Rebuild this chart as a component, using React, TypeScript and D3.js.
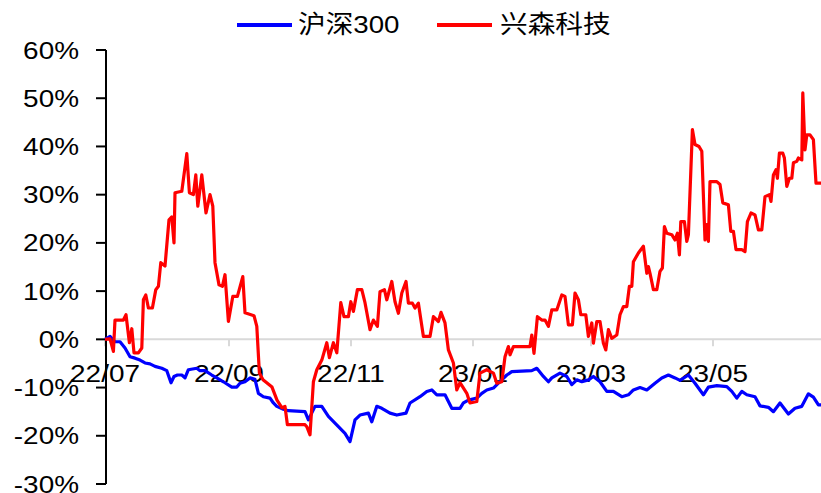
import React from 'react';
import * as d3 from 'd3';

const seriesNames = ['沪深300', '兴森科技'];
const seriesColors = ['#0000FF', '#FF0000'];
const yTicks = [-30, -20, -10, 0, 10, 20, 30, 40, 50, 60];
const xTickLabels = ['22/07', '22/09', '22/11', '23/01', '23/03', '23/05'];
const xTickDates = ['2022-07-01', '2022-09-01', '2022-11-01', '2023-01-01', '2023-03-01', '2023-05-01'];
const startDate = '2022-07-01';
const endDate = '2023-06-24';

// days since start, cumulative return (%)
const blueDays = [0,2.5,5,7.5,10,12.5,15,17.5,20,22.5,25,28.4,30.9,33,34.5,36.2,38.4,40,41.7,45.9,47.5,50,53.4,55.9,59.2,63.4,65.9,67.5,70,72.5,75,76.7,79.2,82.5,84.2,85.9,89.2,91.7,100,101.7,105,108.4,111.7,116.7,120,122.5,125,127.5,131.7,133.4,135.9,138.4,142.5,145.9,150.5,152.5,157.5,160.9,163.4,165.9,170,173.4,177.5,179.2,181.7,185.9,188.4,190.9,194.2,196.7,200.9,203.4,213.4,215.9,219.2,221.7,223.4,227.5,230.9,233.4,235.9,238.4,241.7,244.2,247.5,250.9,254.2,258.4,261.7,264.2,267.5,270.9,275,278.4,281.7,285,287.5,291.7,295,299.2,301.7,305.9,310.9,313.4,315.9,318.4,320.9,325,327.5,331.7,334.2,337.5,341.7,345,348.4,351.7,354.2,356.7,358];
const blueVals = [0,0.6,-0.5,-0.5,-1.8,-3.6,-3.9,-4.3,-4.9,-5.1,-5.6,-6.0,-6.5,-9.0,-7.7,-7.4,-7.4,-8.0,-6.3,-6.0,-6.5,-6.5,-7.4,-8.0,-8.8,-9.9,-9.9,-9.1,-8.8,-8.0,-8.3,-11.2,-11.9,-12.2,-13.2,-13.9,-14.5,-14.8,-15.0,-16.7,-13.9,-13.9,-16.0,-18.1,-19.5,-21.2,-16.7,-15.7,-15.3,-17.1,-13.9,-14.3,-15.3,-15.7,-15.3,-13.2,-11.9,-10.8,-10.5,-11.5,-11.5,-14.3,-14.3,-13.2,-12.6,-12.2,-11.2,-10.5,-10.1,-9.1,-7.4,-6.7,-6.5,-6.0,-7.7,-8.8,-8.0,-7.0,-7.7,-9.4,-8.4,-8.8,-8.4,-7.7,-8.8,-10.8,-10.8,-11.9,-11.5,-10.5,-10.0,-10.5,-9.1,-8.0,-7.4,-8.0,-8.5,-7.4,-9.1,-11.5,-9.9,-9.6,-9.8,-10.8,-12.2,-10.8,-11.5,-11.9,-13.8,-14.1,-15.0,-13.2,-15.5,-14.3,-13.9,-11.3,-12.0,-13.6,-13.6];

const redDays = [0,2.5,4.2,5,9.2,10.5,12.2,13.4,14.5,16.7,18.4,19.2,20.4,21.7,23.7,25.4,26.7,27.9,30,32,33.4,34.5,35,38.4,40.9,42.2,44.2,45.4,46.4,48.4,50.5,52.5,53.9,55,57,58.7,60,61.7,63.9,66.2,68.9,70,74.5,75.9,77.2,79,83.5,86,88.5,90,91.2,100,101,102.5,104.2,105.9,108.4,110.9,112.2,114.2,115.9,117.9,119.5,121.7,122.9,124.2,126.2,128.4,130,132.5,134.2,136.2,137.5,139.7,140.9,143.4,145,146.7,148.4,150.5,151.7,153.7,155,156.7,159.2,162.5,164.2,166.7,168,170,171.7,174.2,175.9,177.5,180.9,182.5,185.9,187.5,190.9,194.2,195.9,198.4,200,201.7,202.5,204.2,212.5,213.4,214.5,216.2,218.4,220,221.7,223.4,225.9,228.4,230,231.7,233.7,235,236.7,237.9,240.4,241.7,243.4,244.2,245.9,247.5,249.2,250.4,251.7,253.4,255.9,257.5,259.2,260.9,262.2,263.4,264.2,266.7,269.2,270.9,271.7,272.5,274.2,275.9,277.5,278.7,279.7,280.9,283.4,285,286.2,287.2,287.9,289.7,290.9,291.7,293.7,295,297,298.4,300,300.9,301.7,302.5,305.9,307.5,308.9,311.7,312.9,314.2,315.5,318.4,320,321.2,323,325,326.7,328.4,330,332.2,333,334.2,335.5,336.2,337.2,338.9,339.7,340.9,342.2,343.4,344.2,345.9,346.7,348.4,348.9,350,350.9,352.5,354.2,355.5,358];
const redVals = [0,0.1,-2.5,4.0,4.0,5.1,-0.7,2.2,-2.8,-2.8,-1.8,8.2,9.2,6.5,6.5,10.3,11.0,15.9,15.2,24.8,25.4,20.0,30.4,30.7,38.5,30.4,30.0,34.1,27.6,34.1,26.2,30.0,27.6,15.9,11.3,11.0,13.4,3.7,8.9,8.9,13.0,5.5,4.9,2.7,-7.0,-8.4,-9.9,-12.6,-14.2,-13.9,-17.7,-17.7,-18.2,-19.8,-8.8,-6.3,-4.3,-0.7,-3.8,-0.7,-2.8,7.6,4.7,4.7,7.8,5.8,10.3,10.3,7.6,2.0,4.0,2.7,9.9,10.3,8.2,12.0,7.8,5.4,9.6,12.0,7.5,7.5,6.5,7.5,0.6,0.6,4.7,3.7,5.6,3.4,-2.2,-4.9,-10.5,-9.0,-11.2,-13.2,-12.9,-7.0,-6.3,-7.0,-9.1,-8.8,-3.6,-1.5,-3.2,-1.5,-1.5,0.9,-2.9,4.7,4.0,4.0,2.7,6.1,6.1,9.2,8.9,3.0,3.0,9.6,8.2,5.1,5.1,0.6,3.4,-0.8,3.7,3.7,-0.8,-2.2,2.0,0.2,0.9,5.1,6.8,6.8,11.0,11.0,16.1,17.9,19.3,13.7,15.1,13.7,10.3,10.3,14.1,14.8,23.4,22.0,21.7,20.6,22.0,17.5,24.4,24.4,20.3,21.7,43.5,40.4,40.0,39.0,20.6,23.8,20.3,32.7,32.7,32.1,28.3,27.9,22.4,22.4,18.6,18.6,18.2,24.4,26.2,25.8,22.7,22.7,29.6,30.0,28.6,34.1,35.2,33.4,38.6,38.6,37.6,31.7,33.4,33.4,36.6,36.9,37.6,37.2,51.1,39.3,42.4,42.4,41.4,32.4,32.4];

const W = 821;
const H = 493;
const parse = d3.timeParse('%Y-%m-%d');
const t0 = parse(startDate) as Date;
const t1 = parse(endDate) as Date;
const toDate = (d: number) => new Date(t0.getTime() + d * 86400000);

export default function App() {
  const x = d3.scaleTime().domain([t0, t1]).range([105, 821]);
  const y = d3.scaleLinear().domain([-30, 60]).range([484, 50]);
  const line = d3
    .line<[number, number]>()
    .x((p) => x(toDate(p[0])))
    .y((p) => y(p[1]));
  const blue = blueDays.map((d, i) => [d, blueVals[i]] as [number, number]);
  const red = redDays.map((d, i) => [d, redVals[i]] as [number, number]);
  const axisX = 106;
  const y0 = y(0);
  const font = '"Liberation Sans", Arial, "Noto Sans CJK SC", sans-serif';
  const legendLineX = [237, 437];
  const legendTextX = [298, 500];

  return (
    <svg width={W} height={H} style={{ position: 'absolute', left: 0, top: 0, background: '#fff' }}>
      <rect x={0} y={0} width={W} height={H} fill="#fff" />
      {/* x axis baseline */}
      <line x1={axisX} x2={W} y1={y0} y2={y0} stroke="#d9d9d9" strokeWidth={2} />
      {xTickDates.map((d, i) => {
        const px = x(parse(d) as Date);
        return (
          <g key={d}>
            <line x1={px} x2={px} y1={y0} y2={y0 + 7} stroke="#d9d9d9" strokeWidth={2} />
            <text
              transform={`translate(${px},${382}) scale(1.14,1)`}
              textAnchor="middle"
              fontFamily={font}
              fontSize={24.5}
              fill="#000"
            >
              {xTickLabels[i]}
            </text>
          </g>
        );
      })}
      {/* y axis */}
      <line x1={axisX} x2={axisX} y1={y(60)} y2={y(-30)} stroke="#000" strokeWidth={2} />
      {yTicks.map((t) => (
        <g key={t}>
          <line x1={axisX - 10} x2={axisX} y1={y(t)} y2={y(t)} stroke="#000" strokeWidth={2} />
          <text
            transform={`translate(79,${y(t) + 8.5}) scale(1.14,1)`}
            textAnchor="end"
            fontFamily={font}
            fontSize={24.5}
            fill="#000"
          >
            {`${t}%`}
          </text>
        </g>
      ))}
      {/* series */}
      <path d={line(blue) || ''} fill="none" stroke={seriesColors[0]} strokeWidth={3.2} strokeLinejoin="round" />
      <path d={line(red) || ''} fill="none" stroke={seriesColors[1]} strokeWidth={3.2} strokeLinejoin="round" />
      {/* legend */}
      {[0, 1].map((i) => (
        <g key={i}>
          <line x1={legendLineX[i]} x2={legendLineX[i] + 55} y1={25} y2={25} stroke={seriesColors[i]} strokeWidth={4} />
          <text
            transform={`translate(${legendTextX[i]},${33}) scale(1.13,1)`}
            fontFamily={font}
            fontSize={24.5}
            fill="#000"
          >
            {seriesNames[i]}
          </text>
        </g>
      ))}
    </svg>
  );
}
